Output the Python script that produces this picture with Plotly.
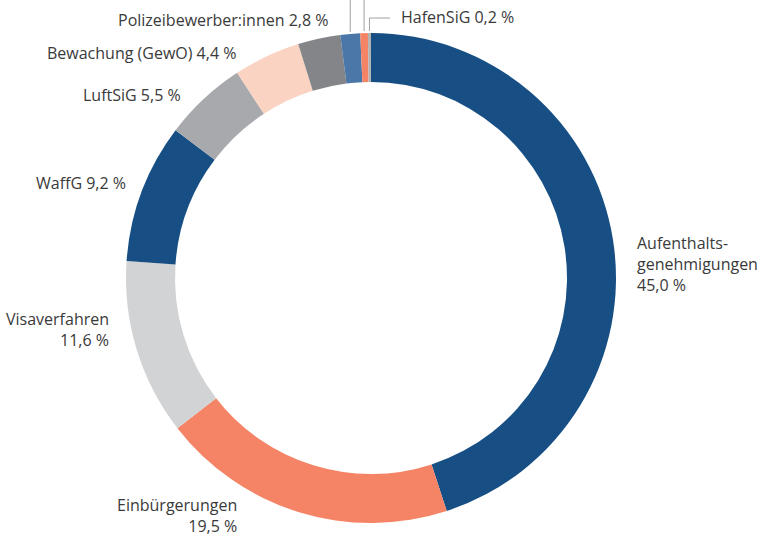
import math
import plotly.graph_objects as go

labels = ["Aufenthaltsgenehmigungen", "Einbürgerungen", "Visaverfahren", "WaffG", "LuftSiG",
          "Bewachung (GewO)", "Polizeibewerber:innen", "Sonstige 1", "Sonstige 2", "HafenSiG"]
values = [45.0, 19.5, 11.6, 9.2, 5.5, 4.4, 2.8, 1.3, 0.5, 0.2]
colors = ["#174f85", "#f58466", "#d2d3d5", "#174f85", "#a8a9ad",
          "#fbd3c3", "#848589", "#4a77a8", "#f58466", "#b3b3b3"]

W, H = 765, 537
cx, cy, R = 371, 278, 245

fig = go.Figure(go.Pie(
    labels=labels, values=values, sort=False, direction="clockwise", rotation=0,
    hole=0.8, marker=dict(colors=colors, line=dict(width=0)),
    textinfo="none", hoverinfo="label+value", showlegend=False,
    domain=dict(x=[(cx - R) / W, (cx + R) / W], y=[1 - (cy + R) / H, 1 - (cy - R) / H]),
))

font = dict(family="Open Sans", size=16, color="#3a3a3a")

def px(x, y):
    return x / W, 1 - y / H

ann = [
    ("Polizeibewerber:innen 2,8 %", 331, 20, "right"),
    ("Bewachung (GewO) 4,4 %", 238, 53, "right"),
    ("LuftSiG 5,5 %", 183, 95, "right"),
    ("WaffG 9,2 %", 128, 183, "right"),
    ("Visaverfahren<br>11,6 %", 111, 329, "right"),
    ("Einbürgerungen<br>19,5 %", 239, 515, "right"),
    ("Aufenthalts-<br>genehmigungen<br>45,0 %", 635, 264, "left"),
    ("HafenSiG 0,2 %", 399, 17, "left"),
]
annotations = []
for text, x, y, al in ann:
    ax, ay = px(x, y)
    annotations.append(dict(text=text, x=ax, y=ay, xref="paper", yref="paper",
                            xanchor=al, yanchor="middle", align=al, showarrow=False,
                            font=font))

# leader lines for the three smallest slices, positioned from slice mid-angles
total = sum(values)
cum = 0
mids = []
for v in values:
    mids.append((cum + v / 2) / total * 2 * math.pi)
    cum += v
shapes = []
line = dict(color="#a0a0a0", width=1)
for i in (7, 8):
    a = mids[i]
    x = cx + R * math.sin(a)
    y = cy - R * math.cos(a)
    x0, y0 = px(x, y - 2)
    x1, y1 = px(x, 0)
    shapes.append(dict(type="line", xref="paper", yref="paper", x0=x0, y0=y0, x1=x1, y1=y1, line=line))
a = mids[9]
x = cx + R * math.sin(a)
y = cy - R * math.cos(a)
x0, y0 = px(x, y - 2)
x1, y1 = px(x, 18)
shapes.append(dict(type="line", xref="paper", yref="paper", x0=x0, y0=y0, x1=x1, y1=y1, line=line))
xa, ya = px(x, 18)
xb, yb = px(390, 18)
shapes.append(dict(type="line", xref="paper", yref="paper", x0=xa, y0=ya, x1=xb, y1=yb, line=line))

fig.update_layout(width=W, height=H, margin=dict(l=0, r=0, t=0, b=0),
                  paper_bgcolor="white", plot_bgcolor="white",
                  annotations=annotations, shapes=shapes)
fig.write_html("out.html", config={"displayModeBar": False},
               post_script="document.body.style.margin='0px';document.body.style.overflow='hidden';")
